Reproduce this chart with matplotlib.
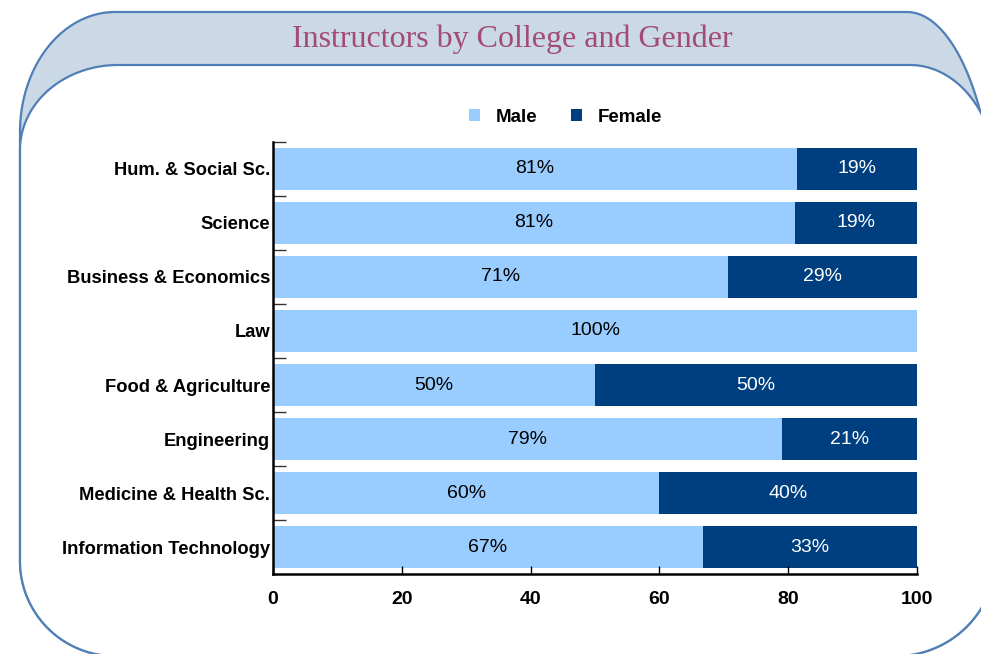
import numpy as np
import matplotlib
matplotlib.use("Agg")
import matplotlib.pyplot as plt
from matplotlib.patches import Polygon

colleges = ["Hum. & Social Sc.", "Science", "Business & Economics", "Law",
            "Food & Agriculture", "Engineering", "Medicine & Health Sc.",
            "Information Technology"]
male = [81.4, 81.1, 70.7, 100, 50, 79, 60, 66.7]
female = [18.6, 18.9, 29.3, 0, 50, 21, 40, 33.3]
x_ticks = [0, 20, 40, 60, 80, 100]

MALE_C = "#99CCFF"
FEMALE_C = "#003F7F"
EDGE_C = "#4F7FB5"


def rounded(x0, y0, x1, y1, tl, tr, br, bl, n=40):
    # rounded box with elliptic corners, y axis pointing down
    pts = []
    t = np.linspace(-np.pi / 2, 0, n)
    pts += list(zip(x1 - tr[0] + tr[0] * np.cos(t), y0 + tr[1] + tr[1] * np.sin(t)))
    t = np.linspace(0, np.pi / 2, n)
    pts += list(zip(x1 - br[0] + br[0] * np.cos(t), y1 - br[1] + br[1] * np.sin(t)))
    t = np.linspace(np.pi / 2, np.pi, n)
    pts += list(zip(x0 + bl[0] + bl[0] * np.cos(t), y1 - bl[1] + bl[1] * np.sin(t)))
    t = np.linspace(np.pi, 1.5 * np.pi, n)
    pts += list(zip(x0 + tl[0] + tl[0] * np.cos(t), y0 + tl[1] + tl[1] * np.sin(t)))
    return np.array(pts)


def main():
    plt.rcParams['font.family'] = ['Liberation Sans', 'DejaVu Sans']
    fig = plt.figure(figsize=(9.81, 6.54), dpi=100)

    # slide frame
    bg = fig.add_axes([0, 0, 1, 1], zorder=0)
    bg.set_xlim(0, 981)
    bg.set_ylim(654, 0)
    bg.axis('off')
    outer = rounded(20, 12, 996, 656, (95, 120), (89, 230), (100, 100), (95, 95))
    inner = rounded(20, 65, 996, 656, (98, 85), (86, 110), (100, 100), (95, 95))
    bg.add_patch(Polygon(outer, closed=True, facecolor="#CBD9E6", edgecolor=EDGE_C, lw=1.6))
    bg.add_patch(Polygon(inner, closed=True, facecolor="white", edgecolor=EDGE_C, lw=1.6))
    bg.text(512, 39, "Instructors by College and Gender", ha='center', va='center',
            fontsize=23, color="#A34A76", family=['Liberation Serif', 'DejaVu Serif'])

    ax = fig.add_axes([0.2783, 0.1223, 0.6565, 0.6606], zorder=1)
    ax.set_facecolor('none')
    y = np.arange(len(colleges))
    ax.barh(y, male, height=0.78, color=MALE_C, label="Male")
    ax.barh(y, female, left=male, height=0.78, color=FEMALE_C, label="Female")

    for i in range(len(colleges)):
        ax.text(male[i] / 2, i, "%d%%" % round(male[i]), ha='center', va='center',
                fontsize=14, color='black')
        if female[i] > 0:
            ax.text(male[i] + female[i] / 2, i, "%d%%" % round(female[i]),
                    ha='center', va='center', fontsize=14, color='white')

    ax.set_xlim(0, 100)
    ax.set_ylim(len(colleges) - 0.5, -0.5)
    ax.set_xticks(x_ticks)
    ax.set_xticklabels([str(v) for v in x_ticks], fontsize=14, fontweight='bold')
    ax.set_yticks(y)
    ax.set_yticklabels(colleges, fontsize=13.2, fontweight='bold')
    ax.set_yticks(np.arange(len(colleges)) - 0.5, minor=True)
    ax.tick_params(axis='y', which='major', length=0, pad=2)
    ax.tick_params(axis='y', which='minor', direction='in', length=9, width=1, color='#333333')
    ax.tick_params(axis='x', direction='in', length=6, width=1, pad=12)

    for s in ['top', 'right']:
        ax.spines[s].set_visible(False)
    for s in ['left', 'bottom']:
        ax.spines[s].set_linewidth(1.8)
        ax.spines[s].set_color('black')

    fig.legend(loc='center', bbox_to_anchor=(0.5765, 0.821), ncol=2, frameon=False,
               prop={'weight': 'bold', 'size': 13.5}, handlelength=0.6, handleheight=0.6,
               columnspacing=1.75, handletextpad=0.85)

    fig.savefig("out.png", dpi=100)


if __name__ == "__main__":
    main()
